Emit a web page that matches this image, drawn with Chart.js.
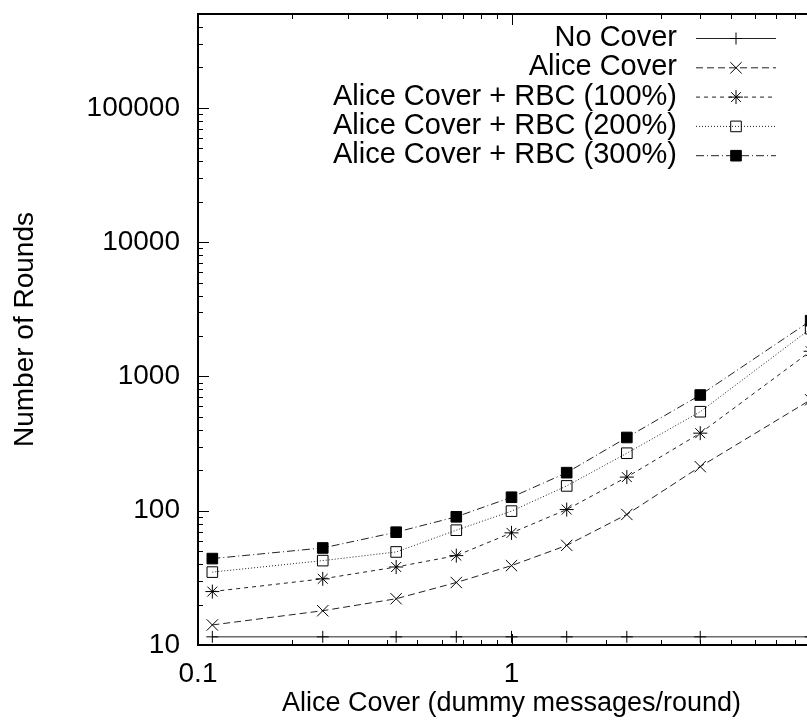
<!DOCTYPE html>
<html>
<head>
<meta charset="utf-8">
<script src="https://cdn.jsdelivr.net/npm/chart.js@4/dist/chart.umd.min.js"></script>
<style>
  html, body { margin: 0; padding: 0; overflow: hidden; background: #fff; }
  canvas { display: block; }
</style>
</head>
<body>
<canvas id="myChart" width="845" height="723"></canvas>
<script>
// x = dummy messages per round, y = rounds
const coverRates = [0.1111, 0.25, 0.4286, 0.6667, 1, 1.5, 2.333, 4, 9];
const noCover    = [11.5, 11.5, 11.5, 11.5, 11.5, 11.5, 11.5, 11.5, 11.5];
const aliceCover = [14.1, 18.0, 22.1, 29.2, 39, 55.2, 93.8, 213, 670];
const rbc100     = [25.0, 31.1, 38.1, 46.3, 68.4, 102, 178, 378, 1540];
const rbc200     = [34.9, 42.5, 49.3, 71.6, 99.3, 153, 268, 546, 2270];
const rbc300     = [44, 52.8, 69.2, 90.1, 126, 192, 351, 727, 2600];

const seriesLabels = ['No Cover', 'Alice Cover', 'Alice Cover + RBC (100%)',
                      'Alice Cover + RBC (200%)', 'Alice Cover + RBC (300%)'];
const xTickValues = [0.1, 1, 10];
const yTickValues = [10, 100, 1000, 10000, 100000];

const FONT = '"Liberation Sans", Arial, Helvetica, sans-serif';
const lineColor = '#222';

function makeSet(label, data, dash, style, radius, fill) {
    return {
        label: label,
        data: coverRates.map((x, i) => ({ x: x, y: data[i] })),
        borderColor: lineColor,
        borderWidth: 1,
        borderDash: dash,
        pointStyle: style,
        pointRadius: radius,
        pointBorderColor: '#000',
        pointBorderWidth: 1,
        pointBackgroundColor: fill,
        tension: 0
    };
}

// minor ticks 2..9 inside each decade
function minorTicks(lo, hi) {
    let out = [];
    for (let d = lo; d < hi; d *= 10) {
        for (let k = 2; k <= 9; k++) out.push(d * k);
    }
    return out;
}

// keep chart.js from adding room for half labels at the ends
function noEdgePad(s) {
    s.paddingTop = 0; s.paddingBottom = 0;
    s.paddingLeft = 0; s.paddingRight = 0;
}

const frameTicks = {
    id: 'frameTicks',
    afterDraw(chart) {
        const { ctx, chartArea: a } = chart;
        const xs = chart.scales.x, ys = chart.scales.y;
        ctx.save();
        ctx.strokeStyle = '#000';
        ctx.setLineDash([]);
        ctx.lineWidth = 1;
        ctx.beginPath();
        const tickX = (v, len) => {
            const px = Math.round(xs.getPixelForValue(v)) + 0.5;
            ctx.moveTo(px, a.bottom); ctx.lineTo(px, a.bottom - len);
            ctx.moveTo(px, a.top); ctx.lineTo(px, a.top + len);
        };
        const tickY = (v, len) => {
            const py = Math.round(ys.getPixelForValue(v)) + 0.5;
            ctx.moveTo(a.left, py); ctx.lineTo(a.left + len, py);
            ctx.moveTo(a.right, py); ctx.lineTo(a.right - len, py);
        };
        xTickValues.forEach(v => tickX(v, 11));
        minorTicks(0.1, 10).forEach(v => tickX(v, 5));
        yTickValues.forEach(v => tickY(v, 11));
        minorTicks(10, 1000000).filter(v => v < 500000).forEach(v => tickY(v, 5));
        ctx.stroke();

        ctx.lineWidth = 2;
        ctx.strokeRect(a.left, a.top, a.right - a.left, a.bottom - a.top);

        // key, gnuplot style: text right aligned, sample line on the right
        ctx.font = '29px ' + FONT;
        ctx.textAlign = 'right';
        ctx.textBaseline = 'middle';
        const textRight = a.right - 148, lx0 = a.right - 129, lx1 = a.right - 49;
        chart.data.datasets.forEach((ds, i) => {
            const y = a.top + 24 + i * 29.3;
            ctx.fillStyle = '#000';
            ctx.fillText(ds.label, textRight, y);
            ctx.lineWidth = 1;
            ctx.strokeStyle = lineColor;
            ctx.setLineDash(ds.borderDash);
            ctx.beginPath();
            ctx.moveTo(lx0, y + 0.5); ctx.lineTo(lx1, y + 0.5);
            ctx.stroke();
            ctx.setLineDash([]);
            ctx.strokeStyle = '#000';
            ctx.fillStyle = ds.pointBackgroundColor;
            Chart.helpers.drawPoint(ctx, {
                pointStyle: ds.pointStyle, radius: ds.pointRadius, borderWidth: 1, rotation: 0
            }, (lx0 + lx1) / 2, y + 0.5);
        });
        ctx.restore();
    }
};

const ctx = document.getElementById('myChart');

var chart = new Chart(ctx, {
    type: 'line',
    data: {
        datasets: [
            makeSet(seriesLabels[0], noCover, [], 'cross', 6, '#000'),
            makeSet(seriesLabels[1], aliceCover, [7, 4], 'crossRot', 8, '#000'),
            makeSet(seriesLabels[2], rbc100, [4, 4], 'star', 7, '#000'),
            makeSet(seriesLabels[3], rbc200, [1, 2], 'rect', 7.5, 'rgba(0,0,0,0)'),
            makeSet(seriesLabels[4], rbc300, [8, 3, 1, 3], 'rect', 7.5, '#000')
        ]
    },
    options: {
        responsive: false,
        animation: false,
        layout: { padding: { top: 14, right: 20, left: 0, bottom: 0 } },
        plugins: { legend: { display: false }, tooltip: { enabled: false } },
        scales: {
            x: {
                type: 'logarithmic',
                min: 0.1,
                max: 10,
                grid: { display: false, drawTicks: false },
                border: { display: false },
                afterBuildTicks: s => { s.ticks = xTickValues.map(v => ({ value: v })); },
                afterFit: s => { s.height = 78; noEdgePad(s); },
                ticks: {
                    autoSkip: false, maxRotation: 0, padding: 12, color: '#000',
                    font: { family: FONT, size: 28 },
                    callback: v => String(v)
                },
                title: {
                    display: true, text: 'Alice Cover (dummy messages/round)', color: '#000',
                    font: { family: FONT, size: 27 }, padding: { top: 0, bottom: 3 }
                }
            },
            y: {
                type: 'logarithmic',
                min: 10,
                max: 500000,
                grid: { display: false, drawTicks: false },
                border: { display: false },
                afterBuildTicks: s => { s.ticks = yTickValues.map(v => ({ value: v })); },
                afterFit: s => { s.width = 198; noEdgePad(s); },
                ticks: {
                    autoSkip: false, padding: 18, color: '#000',
                    font: { family: FONT, size: 28 },
                    callback: v => String(v)
                },
                title: {
                    display: true, text: 'Number of Rounds', color: '#000',
                    font: { family: FONT, size: 28 }, padding: { top: 8, bottom: 0 }
                }
            }
        }
    },
    plugins: [frameTicks]
});
</script>
</body>
</html>
